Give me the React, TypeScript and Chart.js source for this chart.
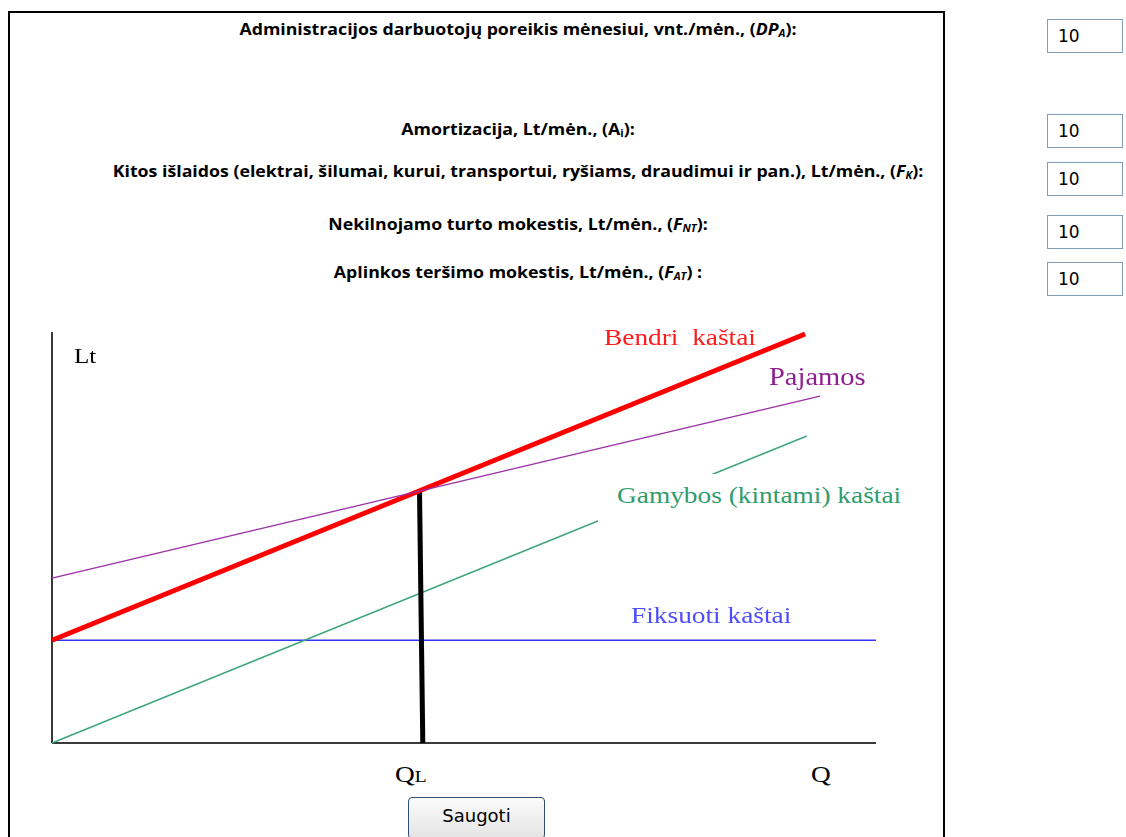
import React, { useEffect, useRef } from "react";
import { Chart, registerables } from "chart.js";

Chart.register(...registerables);

// ---- data (Q units on x, Lt units on y) ----
const qRange = [0, 100];
const ltRange = [0, 100];
const fixedCostQ = [0, 100];
const fixedCostLt = [25, 25];
const variableCostQ = [0, 91.6];
const variableCostLt = [0, 74.7];
const totalCostQ = [0, 91.4];
const totalCostLt = [25, 99.5];
const revenueQ = [0, 93.2];
const revenueLt = [40.1, 84.4];
const breakEvenQ = [45.0, 44.6];
const breakEvenLt = [0, 61.3];
const yAxisQ = [0, 0];
const yAxisLt = [0, 100];
const xAxisQ = [0, 100];
const xAxisLt = [0, 0];

const inputValues = ["10", "10", "10", "10", "10"];

function pts(xs: number[], ys: number[]) {
  return xs.map((x, i) => ({ x, y: ys[i] }));
}

const serif = "'Liberation Serif', 'Times New Roman', serif";
const sans = "'Open Sans', 'Noto Sans', sans-serif";
const verd = "'DejaVu Sans', Verdana, sans-serif";

function SerifLabel(props: { left: number; baseline: number; size: number; color: string; children: React.ReactNode }) {
  const { left, baseline, size, color, children } = props;
  return (
    <div
      style={{
        position: "absolute",
        left,
        top: baseline - 0.8375 * size,
        fontFamily: serif,
        fontSize: size,
        lineHeight: `${size}px`,
        color,
        whiteSpace: "pre",
        transform: "scaleX(1.14)",
        transformOrigin: "left",
        zIndex: 3,
      }}
    >
      {children}
    </div>
  );
}

function FormLabel(props: { baseline: number; children: React.ReactNode }) {
  const size = 16.5;
  return (
    <div
      style={{
        position: "absolute",
        left: 0,
        width: 1036,
        top: props.baseline - 0.888 * size,
        textAlign: "center",
        fontFamily: sans,
        fontWeight: 700,
        fontSize: size,
        lineHeight: `${size}px`,
        color: "#000",
        whiteSpace: "pre",
        transform: "scaleX(1.075)",
        transformOrigin: "center",
      }}
    >
      {props.children}
    </div>
  );
}

const subStyle: React.CSSProperties = { fontSize: "0.62em", verticalAlign: "-0.2em", lineHeight: 0 };

export default function App() {
  const canvasRef = useRef<HTMLCanvasElement | null>(null);

  useEffect(() => {
    const canvas = canvasRef.current;
    if (!canvas) return;
    const thin = 1.4;
    const chart = new Chart(canvas, {
      type: "line",
      data: {
        datasets: [
          { data: pts(revenueQ, revenueLt), borderColor: "#9b30a6", borderWidth: thin },
          { data: pts(totalCostQ, totalCostLt), borderColor: "#ff0000", borderWidth: 5 },
          { data: pts(breakEvenQ, breakEvenLt), borderColor: "#000000", borderWidth: 5 },
          { data: pts(variableCostQ, variableCostLt), borderColor: "#3ea679", borderWidth: thin },
          { data: pts(fixedCostQ, fixedCostLt), borderColor: "#3434ff", borderWidth: thin },
          { data: pts(yAxisQ, yAxisLt), borderColor: "#3a3a3a", borderWidth: 2 },
          { data: pts(xAxisQ, xAxisLt), borderColor: "#3a3a3a", borderWidth: 2 },
        ].map((d) => ({ ...d, pointRadius: 0, fill: false, tension: 0, clip: false as const })),
      },
      options: {
        animation: false,
        responsive: false,
        devicePixelRatio: 1,
        events: [],
        layout: { padding: { left: 22, right: 34, top: 32, bottom: 17 } },
        plugins: { legend: { display: false }, tooltip: { enabled: false } },
        scales: {
          x: { type: "linear", min: qRange[0], max: qRange[1], display: false },
          y: { type: "linear", min: ltRange[0], max: ltRange[1], display: false },
        },
      },
    });
    return () => chart.destroy();
  }, []);

  const boxTops = [19, 114, 162, 215, 262];

  return (
    <div style={{ position: "absolute", left: 0, top: 0, width: 1126, height: 837, overflow: "hidden", background: "#fff" }}>
      {/* outer frame */}
      <div style={{ position: "absolute", left: 8, top: 11, width: 937, height: 900, border: "2px solid #000", boxSizing: "border-box" }} />

      <FormLabel baseline={35.5}>
        Administracijos darbuotojų poreikis mėnesiui, vnt./mėn., (<i>DP<sub style={subStyle}>A</sub></i>):
      </FormLabel>
      <FormLabel baseline={135.5}>
        Amortizacija, Lt/mėn., (A<sub style={subStyle}>i</sub>):
      </FormLabel>
      <FormLabel baseline={177.5}>
        Kitos išlaidos (elektrai, šilumai, kurui, transportui, ryšiams, draudimui ir pan.), Lt/mėn., (<i>F<sub style={subStyle}>K</sub></i>):
      </FormLabel>
      <FormLabel baseline={230.5}>
        Nekilnojamo turto mokestis, Lt/mėn., (<i>F<sub style={subStyle}>NT</sub></i>):
      </FormLabel>
      <FormLabel baseline={278.5}>
        Aplinkos teršimo mokestis, Lt/mėn., (<i>F<sub style={subStyle}>AT</sub></i>) :
      </FormLabel>

      {inputValues.map((v, i) => (
        <div
          key={i}
          style={{
            position: "absolute",
            left: 1047,
            top: boxTops[i],
            width: 76,
            height: 34,
            boxSizing: "border-box",
            border: "1px solid #7f9db9",
            fontFamily: verd,
            fontSize: 17,
            lineHeight: "32px",
            paddingLeft: 10,
            color: "#000",
          }}
        >
          {v}
        </div>
      ))}

      <canvas
        ref={canvasRef}
        width={880}
        height={460}
        style={{ position: "absolute", left: 30, top: 300, width: 880, height: 460, zIndex: 1 }}
      />

      {/* white mask behind the variable-cost label */}
      <div style={{ position: "absolute", left: 598, top: 474, width: 310, height: 50, background: "#fff", zIndex: 2 }} />

      <SerifLabel left={74} baseline={363} size={22} color="#000">Lt</SerifLabel>
      <SerifLabel left={604} baseline={345} size={24} color="#ff1a1a">{"Bendri  kaštai"}</SerifLabel>
      <SerifLabel left={769} baseline={385} size={25} color="#8e1f8e">Pajamos</SerifLabel>
      <SerifLabel left={617} baseline={503} size={24} color="#2f9c6c">Gamybos (kintami) kaštai</SerifLabel>
      <SerifLabel left={631} baseline={623} size={24} color="#4d4dff">Fiksuoti kaštai</SerifLabel>
      <SerifLabel left={395} baseline={782} size={24} color="#000">
        Q<span style={{ fontSize: 17 }}>L</span>
      </SerifLabel>
      <SerifLabel left={811} baseline={782} size={24} color="#000">Q</SerifLabel>

      <div
        style={{
          position: "absolute",
          left: 408,
          top: 797,
          width: 137,
          height: 42,
          boxSizing: "border-box",
          border: "1px solid #2c4f73",
          borderRadius: 4,
          background: "linear-gradient(#fbfbfb, #e4e4e4)",
          fontFamily: verd,
          fontSize: 18,
          lineHeight: "36px",
          textAlign: "center",
          color: "#000",
        }}
      >
        Saugoti
      </div>
    </div>
  );
}
